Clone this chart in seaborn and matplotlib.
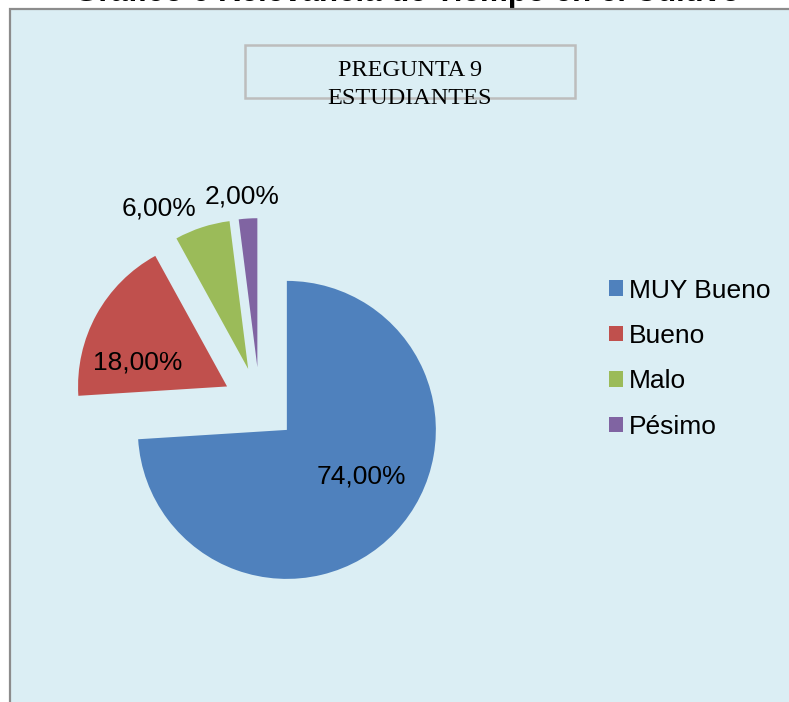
import matplotlib
matplotlib.use("Agg")
import matplotlib.pyplot as plt
from matplotlib.patches import Rectangle
import numpy as np
import seaborn as sns

# ---- data ----
categories = ["MUY Bueno", "Bueno", "Malo", "Pésimo"]
values = [74.0, 18.0, 6.0, 2.0]
value_labels = ["74,00%", "18,00%", "6,00%", "2,00%"]
chart_title = "Gráfico 6 Relevancia de Tiempo en el Cultivo"
box_line1 = "PREGUNTA 9"
box_line2 = "ESTUDIANTES"

# ---- style ----
sns.set_style("white")
plt.rcParams["font.family"] = ["Liberation Sans", "DejaVu Sans"]
plt.rcParams["text.color"] = "black"
colors = ["#4F81BD", "#C0504D", "#9BBB59", "#8064A2"]
bg = "#DBEEF4"

W, H = 789, 702
fig = plt.figure(figsize=(W / 100, H / 100), dpi=100)
fig.patch.set_facecolor("white")

def fx(px):
    return px / W

def fy(py):
    return 1 - py / H

# cut-off chart title at the top (drawn beneath the frame)
fig.text(fx(407), fy(1), chart_title, ha="center", va="baseline",
         fontsize=22.5, fontweight="bold", color="black", zorder=-2)

# chart area frame
frame = Rectangle((fx(10), fy(H + 20)), fx(W + 20 - 10), (H + 20 - 9) / H,
                  transform=fig.transFigure, facecolor=bg, edgecolor="#8C8C8C",
                  linewidth=1.6, zorder=-1)
fig.patches.append(frame)

# pie axes: covers whole figure, 1 data unit = radius
R = 149.0
cx, cy = 259.7, 404.4
ax = fig.add_axes([0, 0, 1, 1])
ax.patch.set_alpha(0)

explode = [0.25] * len(values)
wedges, _ = ax.pie(values, colors=colors, startangle=90, counterclock=False,
                   explode=explode, radius=1.0, center=(0, 0),
                   wedgeprops=dict(linewidth=0))
ax.set_xlim(-cx / R, (W - cx) / R)
ax.set_ylim(-(H - cy) / R, cy / R)
ax.set_aspect("equal")
ax.axis("off")

# label placement relative to each wedge (distance in radii, angle offset deg)
label_pos = [(0.59, 11), (0.62, 14), (1.23, 11), (1.15, 1.5)]
for w, txt, (d, off) in zip(wedges, value_labels, label_pos):
    mid = (w.theta1 + w.theta2) / 2 + off
    wc = w.center
    x = wc[0] + d * np.cos(np.radians(mid))
    y = wc[1] + d * np.sin(np.radians(mid))
    ax.text(x, y, txt, ha="center", va="center", fontsize=19, color="black")

# legend
leg = fig.legend(wedges, categories, loc="upper left",
                 bbox_to_anchor=(fx(598), fy(268)), frameon=False,
                 fontsize=19, handlelength=0.53, handleheight=0.53,
                 handletextpad=0.25, labelspacing=0.81, borderaxespad=0,
                 labelcolor="black")

# box title
box = Rectangle((fx(245), fy(98)), fx(575 - 245), (98 - 45) / H,
                transform=fig.transFigure, facecolor="none",
                edgecolor="#BDBDBD", linewidth=1.8, zorder=1)
fig.patches.append(box)
fig.text(fx(410), fy(70), box_line1, ha="center", va="center",
         fontsize=17.5, family="Liberation Serif", color="black", zorder=3)
fig.text(fx(410), fy(98), box_line2, ha="center", va="center",
         fontsize=17.5, family="Liberation Serif", color="black", zorder=3)

fig.savefig("out.png", dpi=100, facecolor="white")
